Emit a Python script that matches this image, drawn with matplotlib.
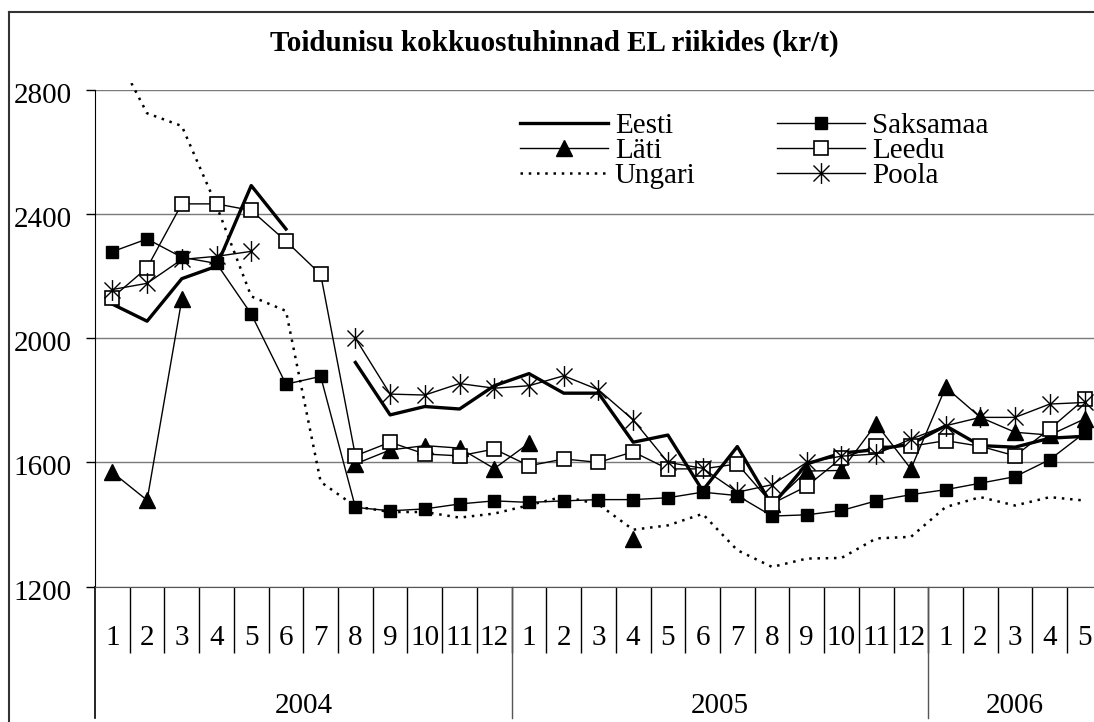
import numpy as np
import matplotlib
matplotlib.use("Agg")
import matplotlib.pyplot as plt
import matplotlib.transforms as mtransforms
from matplotlib.path import Path
from matplotlib.patches import Rectangle
from matplotlib.lines import Line2D

nan = np.nan

months = [str(m) for m in range(1, 13)] * 2 + [str(m) for m in range(1, 6)]
years = ["2004", "2005", "2006"]
year_len = [12, 12, 5]

eesti = [2110, 2055, 2192, 2232, 2492, 2352, nan, 1922, 1753, 1780, 1772, 1847,
         1886, 1823, 1823, 1665, 1688, 1509, 1651, 1461, 1595, 1630, 1641, 1659,
         1718, 1654, 1649, 1678, 1684]
saksamaa = [2279, 2320, 2261, 2241, 2078, 1852, 1877, 1455, 1444, 1450, 1466, 1476,
            1471, 1476, 1480, 1480, 1486, 1504, 1493, 1427, 1431, 1445, 1476, 1496,
            1512, 1533, 1554, 1609, 1695]
lati = [1568, 1478, 2125, nan, nan, nan, nan, 1595, 1640, 1654, 1646, 1580,
        1662, nan, nan, 1354, nan, nan, nan, 1465, 1572, 1574, 1724, 1579,
        1842, 1745, 1697, 1688, 1740]
leedu = [2131, 2227, 2433, 2433, 2412, 2313, 2206, 1621, 1665, 1627, 1621, 1643,
         1589, 1611, 1600, 1634, 1579, 1579, 1595, 1467, 1523, 1614, 1652, 1652,
         1670, 1652, 1621, 1708, 1804]
ungari = [2940, 2725, 2684, 2427, 2135, 2088, 1537, 1458, 1440, 1440, 1422, 1435,
          1462, 1490, 1465, 1383, 1397, 1434, 1317, 1263, 1290, 1292, 1355, 1360,
          1456, 1488, 1461, 1488, 1477]
poola = [2157, 2177, 2254, 2264, 2280, nan, nan, 2000, 1820, 1817, 1854, 1839,
         1847, 1879, 1834, 1737, 1600, 1581, 1504, 1528, 1600, 1620, 1627, 1675,
         1718, 1745, 1745, 1788, 1793]

plt.rcParams["font.family"] = ["Liberation Serif", "DejaVu Serif"]
FS = 21

W, H = 1094, 722
fig = plt.figure(figsize=(W / 100, H / 100), dpi=100)

# plot area in pixels (it runs a bit past the right edge, like the original)
left, right, top, bottom = 95, 1101.9, 90, 586.5
ax = fig.add_axes([left / W, 1 - bottom / H, (right - left) / W, (bottom - top) / H])

x = np.arange(len(months))

# star marker like Excel's (X plus vertical bar)
star = Path([(-1, -1), (1, 1), (-1, 1), (1, -1), (0, -1.3), (0, 1.3)],
            [Path.MOVETO, Path.LINETO, Path.MOVETO, Path.LINETO, Path.MOVETO, Path.LINETO])

l_ung, = ax.plot(x, ungari, color="black", lw=1.8, linestyle=(0, (1.0, 2.3)))
clip = Rectangle((0, 0), 1, 1.015, transform=ax.transAxes)
l_ung.set_clip_path(clip)

l_eesti, = ax.plot(x, eesti, color="black", lw=2.4)
l_saks, = ax.plot(x, saksamaa, color="black", lw=1.0, marker="s", ms=8.5, mfc="black", mec="black")
l_lati, = ax.plot(x, lati, color="black", lw=1.0, marker="^", ms=11, mfc="black", mec="black")
l_leedu, = ax.plot(x, leedu, color="black", lw=1.0, marker="s", ms=10, mfc="white", mec="black", mew=1.2)
l_poola, = ax.plot(x, poola, color="black", lw=1.0, marker=star, ms=15, mfc="none", mec="black", mew=1.0)

ax.set_xlim(-0.5, len(months) - 0.5)
ax.set_ylim(1200, 2800)
ax.set_yticks([1200, 1600, 2000, 2400, 2800])
ax.tick_params(axis="y", direction="out", length=6.5, width=1, pad=10.5, labelsize=FS)
ax.yaxis.grid(True, color="#7a7a7a", lw=1.0)
ax.set_axisbelow(True)

# Excel draws the value labels a touch below the tick
offset = mtransforms.ScaledTranslation(0, -3 / 100, fig.dpi_scale_trans)
for lbl in ax.yaxis.get_majorticklabels():
    lbl.set_transform(lbl.get_transform() + offset)

for s in ["top", "right"]:
    ax.spines[s].set_visible(False)
ax.spines["bottom"].set_color("#555555")
ax.spines["left"].set_color("black")

# month labels and category dividers
ax.set_xticks(x, labels=months)
ax.set_xticks(np.arange(0.5, len(months) - 1, 1), minor=True)
ax.tick_params(axis="x", which="major", length=0, pad=27.5, labelsize=FS)
ax.tick_params(axis="x", which="minor", direction="out", length=47.5, width=1, color="black")

# year dividers and labels
trans = ax.get_xaxis_transform()
ax.plot([-0.5, -0.5], [0, -0.265], color="black", lw=1.2, transform=trans, clip_on=False)
start = 0
for yr, n in zip(years, year_len):
    ax.text(start + n / 2 - 0.5, -0.241, yr, transform=trans, ha="center", va="center", fontsize=FS)
    if start + n < len(months):
        ax.plot([start + n - 0.5] * 2, [0, -0.265], color="#555555", lw=1.0, transform=trans, clip_on=False)
    start += n

fig.text(554 / W, 1 - 43 / H, "Toidunisu kokkuostuhinnad EL riikides (kr/t)",
         ha="center", va="center", fontsize=FS, fontweight="bold")

handles = [l_eesti, l_lati, l_ung, l_saks, l_leedu, l_poola]
labels = ["Eesti", "Läti", "Ungari", "Saksamaa", "Leedu", "Poola"]
fig.legend(handles, labels, ncol=2, loc="upper left", bbox_to_anchor=(520 / W, 1 - 113 / H),
           frameon=False, fontsize=FS, handlelength=3.0, handletextpad=0.25,
           columnspacing=2.8, labelspacing=-0.06, borderpad=0, borderaxespad=0)

# outer chart border: only top and left edges are inside the picture
fig.add_artist(Line2D([9 / W, 9 / W], [0, 1 - 12 / H], transform=fig.transFigure,
                      color="#333333", lw=1.5))
fig.add_artist(Line2D([9 / W, 1], [1 - 12 / H, 1 - 12 / H], transform=fig.transFigure,
                      color="#333333", lw=1.5))

fig.savefig("out.png", dpi=100)
